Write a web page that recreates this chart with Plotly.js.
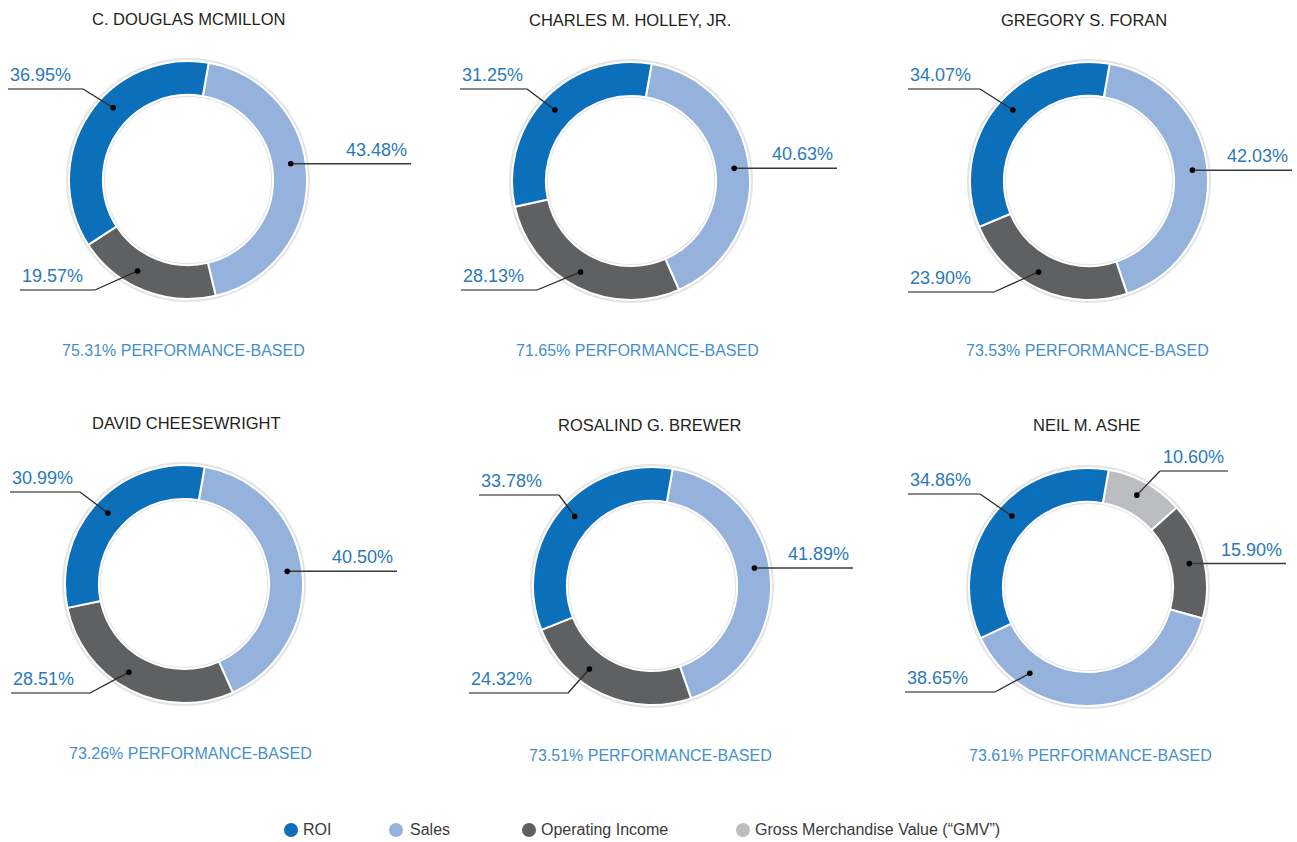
<!DOCTYPE html>
<html>
<head>
<meta charset="utf-8">
<script src="https://cdn.plot.ly/plotly-3.0.1.min.js"></script>
<style>
  html, body { margin: 0; padding: 0; background: #fff; }
  #chart { width: 1297px; height: 842px; }
</style>
</head>
<body>
<div id="chart"></div>
<script>
// ---- data ----
const executives = ['C. DOUGLAS MCMILLON', 'CHARLES M. HOLLEY, JR.', 'GREGORY S. FORAN',
                    'DAVID CHEESEWRIGHT', 'ROSALIND G. BREWER', 'NEIL M. ASHE'];
const roi = [36.95, 31.25, 34.07, 30.99, 33.78, 34.86];
const sales = [43.48, 40.63, 42.03, 40.50, 41.89, 38.65];
const opIncome = [19.57, 28.13, 23.90, 28.51, 24.32, 15.90];
const gmv = [0, 0, 0, 0, 0, 10.60];
const perfBased = [75.31, 71.65, 73.53, 73.26, 73.51, 73.61];

const categoryKeys = ['roi', 'sales', 'op', 'gmv'];
const categoryNames = ['ROI', 'Sales', 'Operating Income', 'Gross Merchandise Value (\u201cGMV\u201d)'];
const seriesByKey = {roi: roi, sales: sales, op: opIncome, gmv: gmv};

// ---- styling / placement ----
const W = 1297, H = 842;
const FONT = 'Liberation Sans, Arial, sans-serif';
const colors = {roi: '#0b6fba', sales: '#94b2dc', op: '#5f6062', gmv: '#bcbdc0'};
const LABEL_BLUE = '#2b79b9';
const SUB_BLUE = '#4590cb';
const R = 119, HOLE = 0.715, ROTATION = 10, DOT_R = 104;

// pie centres and text positions in pixels
const centers = [[188, 180], [631, 181], [1089, 181], [184, 584], [652, 586], [1088, 587]];
const titlePos = [[188, 19], [630, 20], [1084, 20], [186, 423], [649, 425], [1087, 425]];
const subPos = [[183, 350], [637, 350], [1087, 350], [190, 753], [650, 755], [1090, 755]];
// clockwise order of slices from the start angle
const sliceOrder = [
    ['sales', 'op', 'roi'], ['sales', 'op', 'roi'], ['sales', 'op', 'roi'],
    ['sales', 'op', 'roi'], ['sales', 'op', 'roi'], ['gmv', 'op', 'sales', 'roi']
];
// leader lines: dot angle (deg clockwise from 12 o'clock), elbow point, end of underline
const leaders = [
    {roi: {at: 314, elbow: [83, 89], end: 8}, sales: {at: 81, end: 411}, op: {at: 209, elbow: [95, 290], end: 20}},
    {roi: {at: 313, elbow: [527, 89], end: 460}, sales: {at: 83, end: 837}, op: {at: 209, elbow: [537, 290], end: 461}},
    {roi: {at: 313, elbow: [980, 89], end: 908}, sales: {at: 84, end: 1292}, op: {at: 209, elbow: [994, 292], end: 908}},
    {roi: {at: 313, elbow: [80, 492], end: 10}, sales: {at: 83, end: 397}, op: {at: 212, elbow: [90, 693], end: 11}},
    {roi: {at: 312, elbow: [559, 495], end: 479}, sales: {at: 80, end: 853}, op: {at: 217, elbow: [568, 693], end: 469}},
    {roi: {at: 313, elbow: [980, 494], end: 908}, gmv: {at: 28, elbow: [1160, 471], end: 1228},
     op: {at: 77, end: 1286}, sales: {at: 214, elbow: [995, 692], end: 905}}
];
const legendPos = [[291, 303], [396, 410], [529, 541], [743, 755]];
const LEGEND_Y = 830;

const px = x => x / W;
const py = y => 1 - y / H;

const traces = [];
const shapes = [];
const annotations = [];

const addText = (text, x, y, anchor, size, color) => annotations.push({
    text: text, x: px(x), y: py(y), xref: 'paper', yref: 'paper',
    xanchor: anchor, yanchor: 'middle', showarrow: false,
    font: {family: FONT, size: size, color: color}
});

executives.forEach((name, i) => {
    const [cx, cy] = centers[i];
    const order = sliceOrder[i];
    const values = order.map(k => seriesByKey[k][i]);

    // soft grey rim behind the ring
    const rs = R + 3, rin = R * HOLE - 2;
    traces.push({
        type: 'pie', values: [1], sort: false, textinfo: 'none', hoverinfo: 'skip',
        hole: rin / rs, showlegend: false,
        marker: {colors: ['#e4e4e4'], line: {width: 0}},
        domain: {x: [px(cx - rs), px(cx + rs)], y: [py(cy + rs), py(cy - rs)]}
    });

    traces.push({
        type: 'pie', name: name,
        labels: order.map(k => categoryNames[categoryKeys.indexOf(k)]),
        values: values,
        sort: false, direction: 'clockwise', rotation: ROTATION,
        hole: HOLE, textinfo: 'none', hoverinfo: 'label+value', showlegend: false,
        marker: {colors: order.map(k => colors[k]), line: {color: '#ffffff', width: 2}},
        domain: {x: [px(cx - R), px(cx + R)], y: [py(cy + R), py(cy - R)]}
    });

    // leader lines with a dot inside each slice
    order.forEach(k => {
        const spec = leaders[i][k];
        const a = spec.at * Math.PI / 180;
        const dx = cx + DOT_R * Math.sin(a);
        const dy = cy - DOT_R * Math.cos(a);
        const [ex, ey] = spec.elbow || [dx, dy];
        const left = spec.end < ex;

        if (spec.elbow) {
            shapes.push({type: 'line', xref: 'paper', yref: 'paper',
                x0: px(dx), y0: py(dy), x1: px(ex), y1: py(ey),
                line: {color: '#2b2b2b', width: 1.3}});
        }
        shapes.push({type: 'line', xref: 'paper', yref: 'paper',
            x0: px(ex), y0: py(ey), x1: px(spec.end), y1: py(ey),
            line: {color: spec.elbow ? '#8a8a8a' : '#3a3a3a', width: spec.elbow ? 2 : 1.5}});
        shapes.push({type: 'circle', xref: 'paper', yref: 'paper',
            xsizemode: 'pixel', ysizemode: 'pixel', xanchor: px(dx), yanchor: py(dy),
            x0: -2.8, x1: 2.8, y0: -2.8, y1: 2.8,
            fillcolor: '#000000', line: {width: 0}});

        const label = seriesByKey[k][i].toFixed(2) + '%';
        if (left) addText(label, spec.end, ey - 14, 'left', 18, LABEL_BLUE);
        else addText(label, spec.end - 2, ey - 14, 'right', 18, LABEL_BLUE);
    });

    addText(name, titlePos[i][0], titlePos[i][1], 'center', 16.5, '#231f20');
    addText(perfBased[i].toFixed(2) + '% PERFORMANCE-BASED', subPos[i][0], subPos[i][1], 'center', 16, SUB_BLUE);
});

// legend
categoryKeys.forEach((k, j) => {
    const [mx, tx] = legendPos[j];
    shapes.push({type: 'circle', xref: 'paper', yref: 'paper',
        xsizemode: 'pixel', ysizemode: 'pixel', xanchor: px(mx), yanchor: py(LEGEND_Y),
        x0: -7, x1: 7, y0: -7, y1: 7, fillcolor: colors[k], line: {width: 0}});
    addText(categoryNames[j], tx - 2, LEGEND_Y - 1, 'left', 16, '#3a3a3a');
});

const layout = {
    width: W, height: H,
    margin: {l: 0, r: 0, t: 0, b: 0},
    paper_bgcolor: '#ffffff',
    showlegend: false,
    shapes: shapes,
    annotations: annotations
};

Plotly.newPlot('chart', traces, layout, {displayModeBar: false, staticPlot: true});
</script>
</body>
</html>
